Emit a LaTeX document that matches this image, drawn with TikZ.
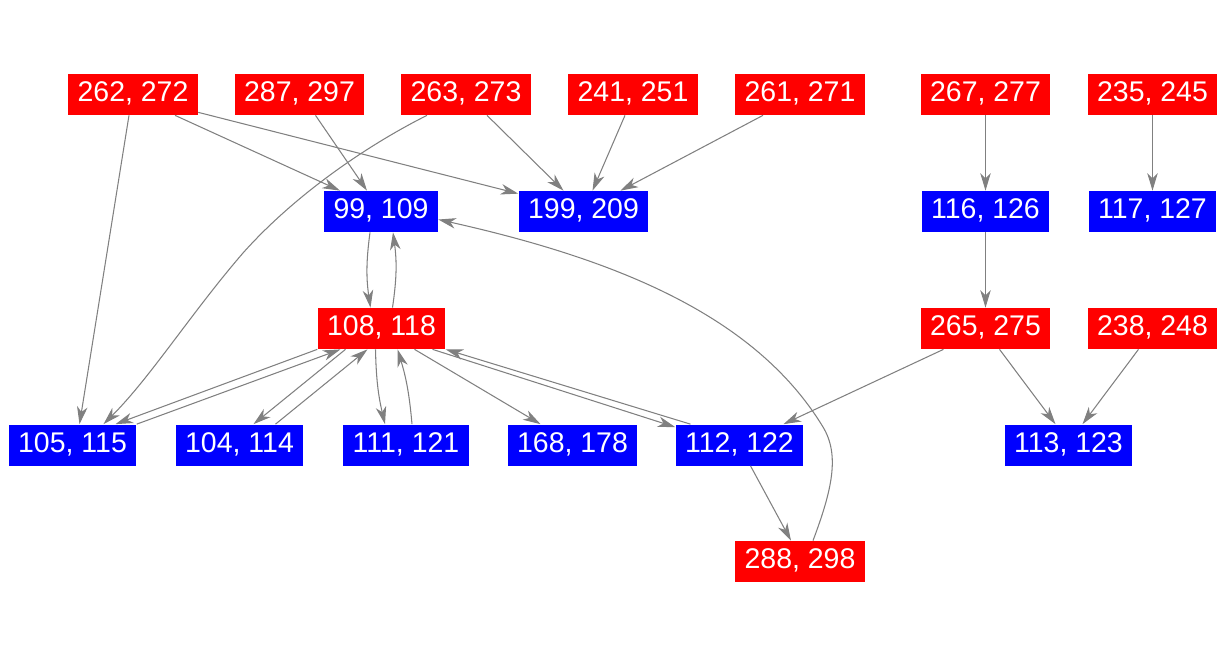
\documentclass[tikz,border=0pt]{standalone}
\usepackage{fontspec}
\setmainfont{Liberation Sans}
\usetikzlibrary{calc,arrows.meta}
\definecolor{linkgray}{RGB}{128,128,128}
\tikzset{
  vert/.style={text=white,font=\fontsize{16.2}{19}\selectfont,minimum height=0.82cm,inner xsep=0.19cm,inner ysep=0pt,text height=1.0em,text depth=0.15em},
  redvert/.style={vert,fill=red},
  bluevert/.style={vert,fill=blue},
  link/.style={draw=linkgray,line width=0.6pt,-{Stealth[length=10pt,width=6pt,inset=3pt]}}
}
\begin{document}
\begin{tikzpicture}[x=0.02cm,y=-0.02cm]
                \useasboundingbox (0,0) rectangle (1225,656);
                %% top row
                \node[redvert] (n262) at (133,94.5) {262, 272};
                \node[redvert] (n287) at (299.5,94.5) {287, 297};
                \node[redvert] (n263) at (466,94.5) {263, 273};
                \node[redvert] (n241) at (633,94.5) {241, 251};
                \node[redvert] (n261) at (800,94.5) {261, 271};
                \node[redvert] (n267) at (985.5,94.5) {267, 277};
                \node[redvert] (n235) at (1152.5,94.5) {235, 245};
                %% second row
                \node[bluevert] (n99) at (381,211.5) {99, 109};
                \node[bluevert] (n199) at (583.5,211.5) {199, 209};
                \node[bluevert] (n116) at (985.5,211.5) {116, 126};
                \node[bluevert] (n117) at (1152.5,211.5) {117, 127};
                %% third row
                \node[redvert] (n108) at (381.5,328.5) {108, 118};
                \node[redvert] (n265) at (985.5,328.5) {265, 275};
                \node[redvert] (n238) at (1152.5,328.5) {238, 248};
                %% fourth row
                \node[bluevert] (n105) at (72.5,445) {105, 115};
                \node[bluevert] (n104) at (239.5,445) {104, 114};
                \node[bluevert] (n111) at (406,445) {111, 121};
                \node[bluevert] (n168) at (572.5,445) {168, 178};
                \node[bluevert] (n112) at (739.5,445) {112, 122};
                \node[bluevert] (n113) at (1068.5,445) {113, 123};
                %% bottom
                \node[redvert] (n288) at (800,561.5) {288, 298};
                %% links from the top row
                \draw[link] ($(n262.south)+(-4,0)$) -- ($(n105.north)+(7,0)$);
                \draw[link] ($(n262.south)+(42,0)$) -- ($(n99.north)+(-41,0)$);
                \draw[link] ($(n262.south east)+(0,-3)$) -- ($(n199.north west)+(0,3)$);
                \draw[link] ($(n287.south)+(16,0)$) -- ($(n99.north)+(-14,0)$);
                \draw[link] ($(n263.south)+(-39,0)$) .. controls (362,148) and (292,198) .. (243,253)
                    .. controls (192,312) and (150,378) .. ($(n105.north)+(31,0)$);
                \draw[link] ($(n263.south)+(21,0)$) -- ($(n199.north)+(-20,0)$);
                \draw[link] ($(n241.south)+(-8,0)$) -- ($(n199.north)+(9,0)$);
                \draw[link] ($(n261.south)+(-37,0)$) -- ($(n199.north)+(37,0)$);
                \draw[link] (n267) -- (n116);
                \draw[link] (n235) -- (n117);
                %% around 99 and 108
                \draw[link] ($(n99.south)+(-11,0)$) to[bend right=8] ($(n108.north)+(-11,0)$);
                \draw[link] ($(n108.north)+(11,0)$) to[bend right=8] ($(n99.south)+(12,0)$);
                \draw[link] (n108.south west) -- ($(n105.north)+(43,0)$);
                \draw[link] (n105.north east) -- ($(n108.south)+(-41,0)$);
                \draw[link] ($(n108.south)+(-36,0)$) -- ($(n104.north)+(14,0)$);
                \draw[link] ($(n104.north)+(36,0)$) -- ($(n108.south)+(-14,0)$);
                \draw[link] ($(n108.south)+(-6,0)$) to[bend right=6] ($(n111.north)+(-21,0)$);
                \draw[link] ($(n111.north)+(6,0)$) to[bend right=6] ($(n108.south)+(16,0)$);
                \draw[link] ($(n108.south)+(33,0)$) -- ($(n168.north)+(-32,0)$);
                \draw[link] ($(n108.south)+(51,0)$) -- ($(n112.north west)+(0,3)$);
                \draw[link] ($(n112.north)+(-49,0)$) -- (n108.south east);
                %% right part
                \draw[link] (n116) -- (n265);
                \draw[link] ($(n265.south)+(-42,0)$) -- ($(n112.north)+(44,0)$);
                \draw[link] ($(n265.south)+(14,0)$) -- ($(n113.north)+(-13,0)$);
                \draw[link] ($(n238.south)+(-14,0)$) -- ($(n113.north)+(14,0)$);
                %% 112 down to 288 and back up to 99
                \draw[link] ($(n112.south)+(11,0)$) -- ($(n288.north)+(-9,0)$);
                \draw[link] ($(n288.north)+(13,0)$) .. controls (832,490) and (840,455) .. (823,427)
                    .. controls (755,315) and (615,259) .. ($(n99.east)+(0,8)$);
            \end{tikzpicture}
\end{document}
